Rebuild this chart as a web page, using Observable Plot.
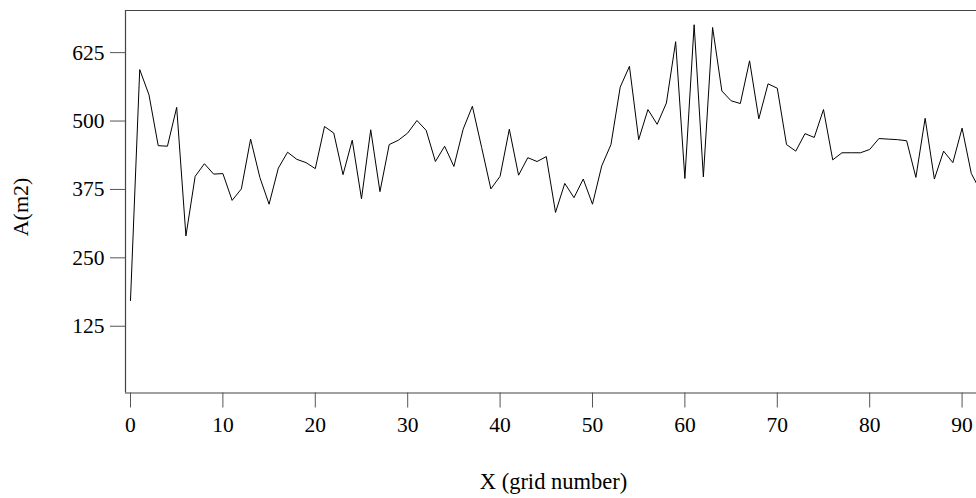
<!DOCTYPE html>
<html>
<head>
<meta charset="utf-8">
<script src="https://cdn.jsdelivr.net/npm/d3@7"></script>
<script src="https://cdn.jsdelivr.net/npm/@observablehq/plot@0.6"></script>
<style>
  html, body { margin: 0; padding: 0; background: #fff; }
</style>
</head>
<body>
<div id="chart"></div>
<script>
const gridNumber = d3.range(0, 93);
const areaValues = [
  172, 594, 548, 455, 454, 525, 290, 399, 422, 403,
  404, 355, 376, 467, 397, 348, 414, 443, 430, 424,
  413, 490, 478, 402, 465, 358, 484, 371, 457, 465,
  478, 501, 483, 426, 454, 417, 485, 527, 452, 376,
  399, 485, 401, 433, 426, 435, 333, 386, 360, 394,
  348, 418, 457, 562, 600, 466, 521, 494, 533, 645,
  395, 676, 398, 671, 555, 537, 532, 610, 504, 568,
  560, 457, 445, 477, 470, 521, 429, 442, 442, 442,
  448, 468, 467, 466, 464, 397, 505, 394, 445, 424,
  487, 404, 372
];
const xTicks = [0, 10, 20, 30, 40, 50, 60, 70, 80, 90];
const yTicks = [125, 250, 375, 500, 625];
const xTitle = "X (grid number)";
const yTitle = "A(m2)";

const data = gridNumber.map((x, i) => ({x, a: areaValues[i]}));
const xDomain = [-0.54, 91.56];
const yDomain = [3, 702];
const font = "Liberation Serif";
const fsTick = 21.5;
const fsTitle = 22.5;

const chart = Plot.plot({
  width: 976,
  height: 498,
  marginLeft: 125,
  marginRight: 0,
  marginTop: 10,
  marginBottom: 105.5,
  style: {fontFamily: font, fontSize: fsTick + "px", background: "#fff", color: "#000"},
  x: {domain: xDomain},
  y: {domain: yDomain},
  marks: [
    Plot.ruleX([xDomain[0]], {stroke: "#444", strokeWidth: 1.2}),
    Plot.ruleY([yDomain[0], yDomain[1]], {stroke: "#444", strokeWidth: 1.2}),
    Plot.axisY({ticks: yTicks, tickSize: 15, tickPadding: 6, fontSize: fsTick, label: null, stroke: "#555"}),
    Plot.axisX({ticks: xTicks, tickSize: 15, tickPadding: 9, fontSize: fsTick, label: null, stroke: "#555"}),
    Plot.line(data, {x: "x", y: "a", stroke: "#000", strokeWidth: 1, clip: true}),
    Plot.text([xTitle], {frameAnchor: "bottom", lineAnchor: "top", textAnchor: "middle", dy: 79.7, dx: 2.5, fontSize: fsTitle, text: d => d}),
    Plot.text([yTitle], {frameAnchor: "left", rotate: -90, textAnchor: "middle", lineAnchor: "middle", dx: 20.8 - 125, dy: 5.25, fontSize: 22, text: d => d, letterSpacing: "2.6px"})
  ]
});
document.getElementById("chart").appendChild(chart);
</script>
</body>
</html>
